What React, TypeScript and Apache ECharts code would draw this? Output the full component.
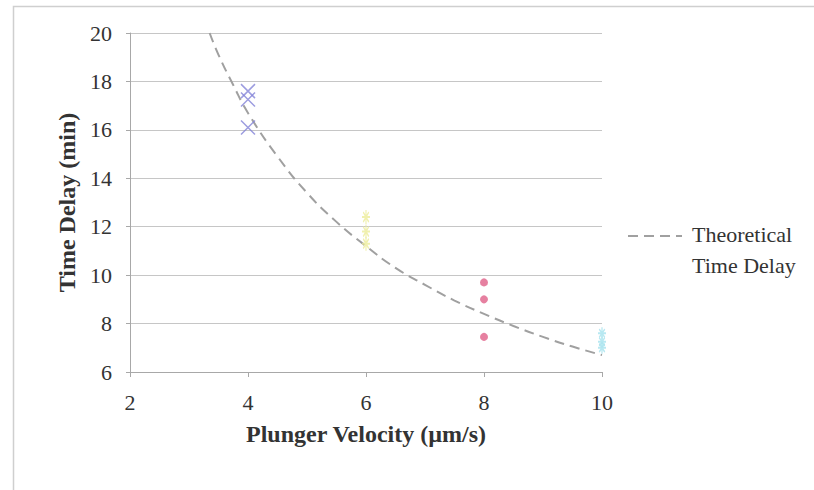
import React, { useEffect, useRef } from "react";
import * as echarts from "echarts";

// Measured time delays per plunger velocity (µm/s -> min)
const runs4 = [17.6, 17.25, 16.1];
const runs6 = [12.4, 11.8, 11.3];
const runs8 = [9.7, 9.0, 7.45];
const runs10 = [7.6, 7.25, 7.0];

// Theoretical time delay curve (velocity, minutes)
const theoryVelocity = [3.35, 3.5, 3.75, 4, 4.5, 5, 5.5, 6, 6.5, 7, 7.5, 8, 8.5, 9, 9.5, 10];
const theoryDelay = [20.0, 19.1, 17.85, 16.7, 14.9, 13.4, 12.2, 11.2, 10.3, 9.6, 8.95, 8.4, 7.9, 7.45, 7.05, 6.7];

const xTicks = [2, 4, 6, 8, 10];
const yTicks = [6, 8, 10, 12, 14, 16, 18, 20];

const legendLines = ["Theoretical", "Time Delay"];

const serif = "'Liberation Serif', 'Times New Roman', serif";

const crossPath = "path://M0,0L10,10M10,0L0,10";
const starPath = "path://M5,0L5,10M0,5L10,5M1.5,1.5L8.5,8.5M8.5,1.5L1.5,8.5";

const pts = (x: number, ys: number[]) => ys.map((y) => [x, y]);

export default function App() {
  const ref = useRef<HTMLDivElement>(null);

  useEffect(() => {
    if (!ref.current) return;
    const chart = echarts.init(ref.current, null, { renderer: "svg" });
    chart.setOption({
      animation: false,
      backgroundColor: "#ffffff",
      textStyle: { fontFamily: serif },
      grid: { left: 130, top: 33, right: 212, bottom: 118 },
      xAxis: {
        type: "value",
        min: xTicks[0],
        max: xTicks[xTicks.length - 1],
        interval: 2,
        name: "Plunger Velocity (µm/s)",
        nameLocation: "middle",
        nameGap: 50,
        nameTextStyle: { fontFamily: serif, fontSize: 24, fontWeight: "bold", color: "#333" },
        axisLine: { show: true, lineStyle: { color: "#a8a8a8", width: 1 } },
        axisTick: { show: true, length: 5, lineStyle: { color: "#a8a8a8" } },
        axisLabel: { fontFamily: serif, fontSize: 22, color: "#333", margin: 19 },
        splitLine: { show: false },
      },
      yAxis: {
        type: "value",
        min: yTicks[0],
        max: yTicks[yTicks.length - 1],
        interval: 2,
        name: "Time Delay (min)",
        nameLocation: "middle",
        nameGap: 47,
        nameRotate: 90,
        nameTextStyle: { fontFamily: serif, fontSize: 24, fontWeight: "bold", color: "#333" },
        axisLine: { show: true, lineStyle: { color: "#a8a8a8", width: 1 } },
        axisTick: { show: true, inside: false, length: 4, lineStyle: { color: "#a8a8a8" } },
        axisLabel: { fontFamily: serif, fontSize: 22, color: "#333", margin: 18 },
        splitLine: { show: true, lineStyle: { color: "#c6c6c6", width: 1 } },
      },
      series: [
        {
          name: "Theoretical Time Delay",
          type: "line",
          smooth: true,
          showSymbol: false,
          data: theoryVelocity.map((v, i) => [v, theoryDelay[i]]),
          lineStyle: { color: "#a0a0a0", width: 2, type: [10, 6] },
          z: 3,
        },
        {
          name: "4 µm/s",
          type: "scatter",
          symbol: crossPath,
          symbolSize: 14,
          data: pts(4, runs4),
          itemStyle: { color: "transparent", borderColor: "#8484d8", borderWidth: 1.5 },
          z: 4,
        },
        {
          name: "6 µm/s",
          type: "scatter",
          symbol: starPath,
          symbolSize: [8, 14],
          data: pts(6, runs6),
          itemStyle: { color: "transparent", borderColor: "#ecec9a", borderWidth: 1.5 },
          z: 4,
        },
        {
          name: "8 µm/s",
          type: "scatter",
          symbol: "circle",
          symbolSize: 8,
          data: pts(8, runs8),
          itemStyle: { color: "#e06088" },
          z: 4,
        },
        {
          name: "10 µm/s",
          type: "scatter",
          symbol: starPath,
          symbolSize: [8, 12],
          data: pts(10, runs10),
          itemStyle: { color: "transparent", borderColor: "#a6e2ee", borderWidth: 1.5 },
          z: 4,
        },
      ],
      graphic: [
        {
          type: "rect",
          shape: { x: 13.5, y: 6.5, width: 830, height: 520 },
          style: { fill: "none", stroke: "#cfcfcf", lineWidth: 1.5 },
          silent: true,
        },
        {
          type: "line",
          shape: { x1: 628, y1: 236, x2: 682, y2: 236 },
          style: { stroke: "#a0a0a0", lineWidth: 2, lineDash: [10, 6] },
        },
        {
          type: "text",
          x: 692,
          y: 219,
          style: {
            text: legendLines.join("\n"),
            fontFamily: serif,
            fontSize: 22,
            lineHeight: 31,
            fill: "#333",
          },
        },
      ],
    });
    return () => chart.dispose();
  }, []);

  return (
    <div
      ref={ref}
      style={{ position: "fixed", left: 0, top: 0, width: 814, height: 490 }}
    />
  );
}
